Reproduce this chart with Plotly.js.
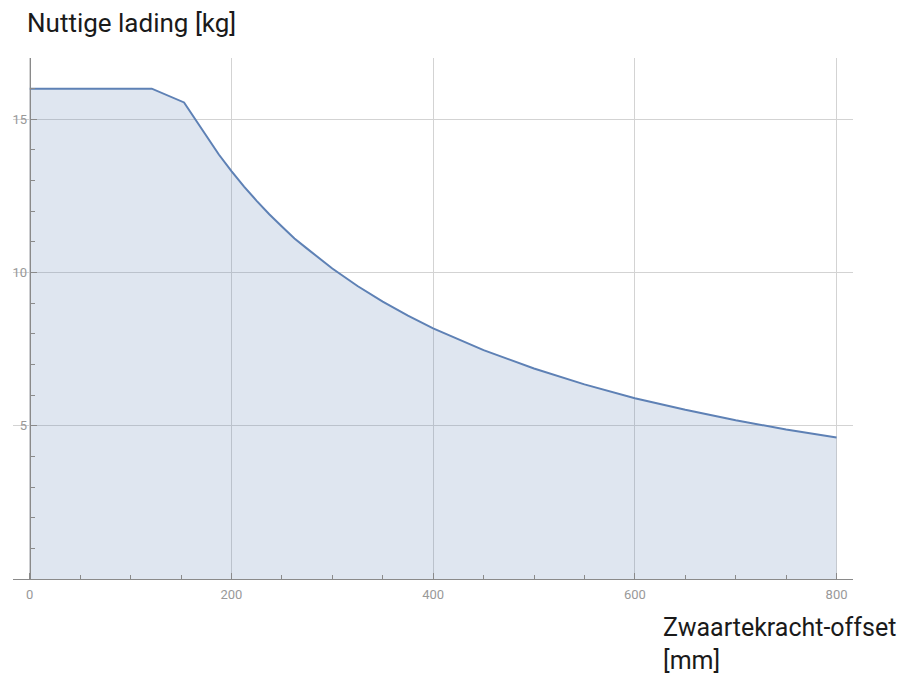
<!DOCTYPE html>
<html>
<head>
<meta charset="utf-8">
<script src="https://cdn.plot.ly/plotly-3.0.1.min.js"></script>
<style>html,body{margin:0;padding:0;background:#fff;}#chart{width:912px;height:674px;}</style>
</head>
<body>
<div id="chart"></div>
<script>
// Data
const offsetMm = [0, 121, 153, 162, 175, 187.5, 200, 212.5, 225, 237.5, 250, 262.5, 275, 287.5, 300, 325, 350, 375, 400, 450, 500, 550, 600, 650, 700, 750, 800];
const payloadKg = [16, 16, 15.55, 15.10, 14.44, 13.85, 13.31, 12.80, 12.34, 11.90, 11.50, 11.11, 10.78, 10.44, 10.13, 9.56, 9.05, 8.59, 8.18, 7.47, 6.87, 6.35, 5.90, 5.52, 5.18, 4.88, 4.62];
const xTickVals = [0, 200, 400, 600, 800];
const yTickVals = [5, 10, 15];
const yTitle = "Nuttige lading [kg]";
const xTitle = "Zwaartekracht-offset<br>[mm]";

const axisCol = "#8a8a8a";
const gridCol = "#d3d3d3";
const tickFont = {family: "Roboto, sans-serif", size: 13, color: "#999999"};
const titleFont = {family: "Roboto, sans-serif", size: 26, color: "#1a1a1a"};
const xTitleFont = {family: "Roboto, sans-serif", size: 25, color: "#1a1a1a"};

const trace = {
  x: offsetMm, y: payloadKg, type: "scatter", mode: "lines",
  line: {color: "#5e81b5", width: 2},
  fill: "tozeroy", fillcolor: "rgba(94,129,181,0.2)",
  hoverinfo: "skip"
};

const layout = {
  width: 912, height: 674,
  margin: {l: 13, r: 59, t: 58, b: 95},
  paper_bgcolor: "#fff", plot_bgcolor: "#fff",
  showlegend: false,
  xaxis: {
    range: [-16.6, 816.3], domain: [0, 1],
    tickvals: xTickVals, ticks: "inside", ticklen: 6, tickcolor: axisCol,
    minor: {dtick: 50, tick0: 0, ticks: "inside", ticklen: 4, tickcolor: axisCol, showgrid: false},
    showline: true, linecolor: axisCol, linewidth: 1,
    showgrid: true, gridcolor: gridCol, gridwidth: 1,
    zeroline: false, tickfont: tickFont, ticklabelstandoff: 3
  },
  yaxis: {
    range: [0, 17], anchor: "free", position: 0.0199,
    tickvals: yTickVals, ticks: "inside", ticklen: 6, tickcolor: axisCol,
    minor: {dtick: 1, tick0: 0, ticks: "inside", ticklen: 4, tickcolor: axisCol, showgrid: false},
    showline: true, linecolor: axisCol, linewidth: 1,
    showgrid: true, gridcolor: gridCol, gridwidth: 1,
    zeroline: false, tickfont: tickFont
  },
  shapes: [{
    type: "rect", layer: "between", xref: "x", yref: "paper",
    x0: -16.6, x1: 0, y0: 0.002, y1: 1,
    fillcolor: "#fff", line: {width: 0}
  }],
  annotations: [
    {text: yTitle, xref: "paper", yref: "paper", x: 0.0143, y: 1.068,
     xanchor: "left", yanchor: "middle", showarrow: false, font: titleFont},
    {text: xTitle, xref: "paper", yref: "paper", x: 0.771, y: -0.124,
     xanchor: "left", yanchor: "middle", align: "left", showarrow: false, font: xTitleFont}
  ]
};

Plotly.newPlot("chart", [trace], layout, {displayModeBar: false, staticPlot: true});
</script>
</body>
</html>
